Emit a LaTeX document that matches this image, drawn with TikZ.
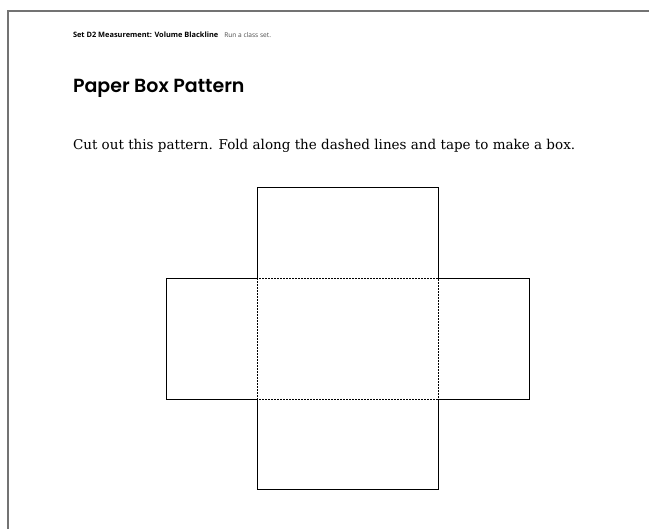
\documentclass[tikz,border=0pt]{standalone}
\usepackage{fontspec}
\setmainfont{DejaVu Serif}
\newfontfamily\hdrfont{Open Sans}
\newfontfamily\titlefont{Poppins}[UprightFont=* SemiBold]
\definecolor{framegray}{gray}{0.45}
\tikzset{
  frameline/.style={draw=framegray, line width=1.3bp},
  cutline/.style={draw=black, line width=0.9bp},
  foldline/.style={draw=black, line width=0.8bp, dash pattern=on 1.6bp off 1.4bp},
  txt/.style={anchor=base west, inner sep=0pt, outer sep=0pt}
}
\begin{document}
\begin{tikzpicture}[x=1bp,y=-1bp]
\useasboundingbox (0,0) rectangle (649,529);
% page frame
\coordinate (fTR) at (649,11);
\coordinate (fTL) at (8,11);
\coordinate (fBL) at (8,529);
\draw[frameline] (fTR) -- (fTL) -- (fBL);
% texts
\node[txt] (hdr) at (73,38) {\hdrfont\fontsize{7.4bp}{9bp}\selectfont\bfseries Set D2 Measurement: Volume Blackline};
\node[txt, anchor=base west] (run) at ([xshift=6bp]hdr.base east) {\hdrfont\fontsize{6.6bp}{8bp}\selectfont\color{black!70} Run a class set.};
\node[txt] (title) at (73,93) {\titlefont\fontsize{19bp}{22bp}\selectfont Paper Box Pattern};
\node[txt] (body) at (73,150) {\fontsize{13.5bp}{16bp}\selectfont Cut out this pattern. Fold along the dashed lines and tape to make a box.};
% box pattern corners
\coordinate (cTL) at (257,278);
\coordinate (cTR) at (438,278);
\coordinate (cBL) at (257,399);
\coordinate (cBR) at (438,399);
\coordinate (tTL) at (257,187);
\coordinate (tTR) at (438,187);
\coordinate (bBL) at (257,489);
\coordinate (bBR) at (438,489);
\coordinate (lTL) at (166,278);
\coordinate (lBL) at (166,399);
\coordinate (rTR) at (529,278);
\coordinate (rBR) at (529,399);
% fold lines
\draw[foldline] (cTL) rectangle (cBR);
% cut outline
\draw[cutline] (cTL) -- (tTL) -- (tTR) -- (cTR) -- (rTR) -- (rBR) -- (cBR) -- (bBR) -- (bBL) -- (cBL) -- (lBL) -- (lTL) -- cycle;
\end{tikzpicture}
\end{document}
